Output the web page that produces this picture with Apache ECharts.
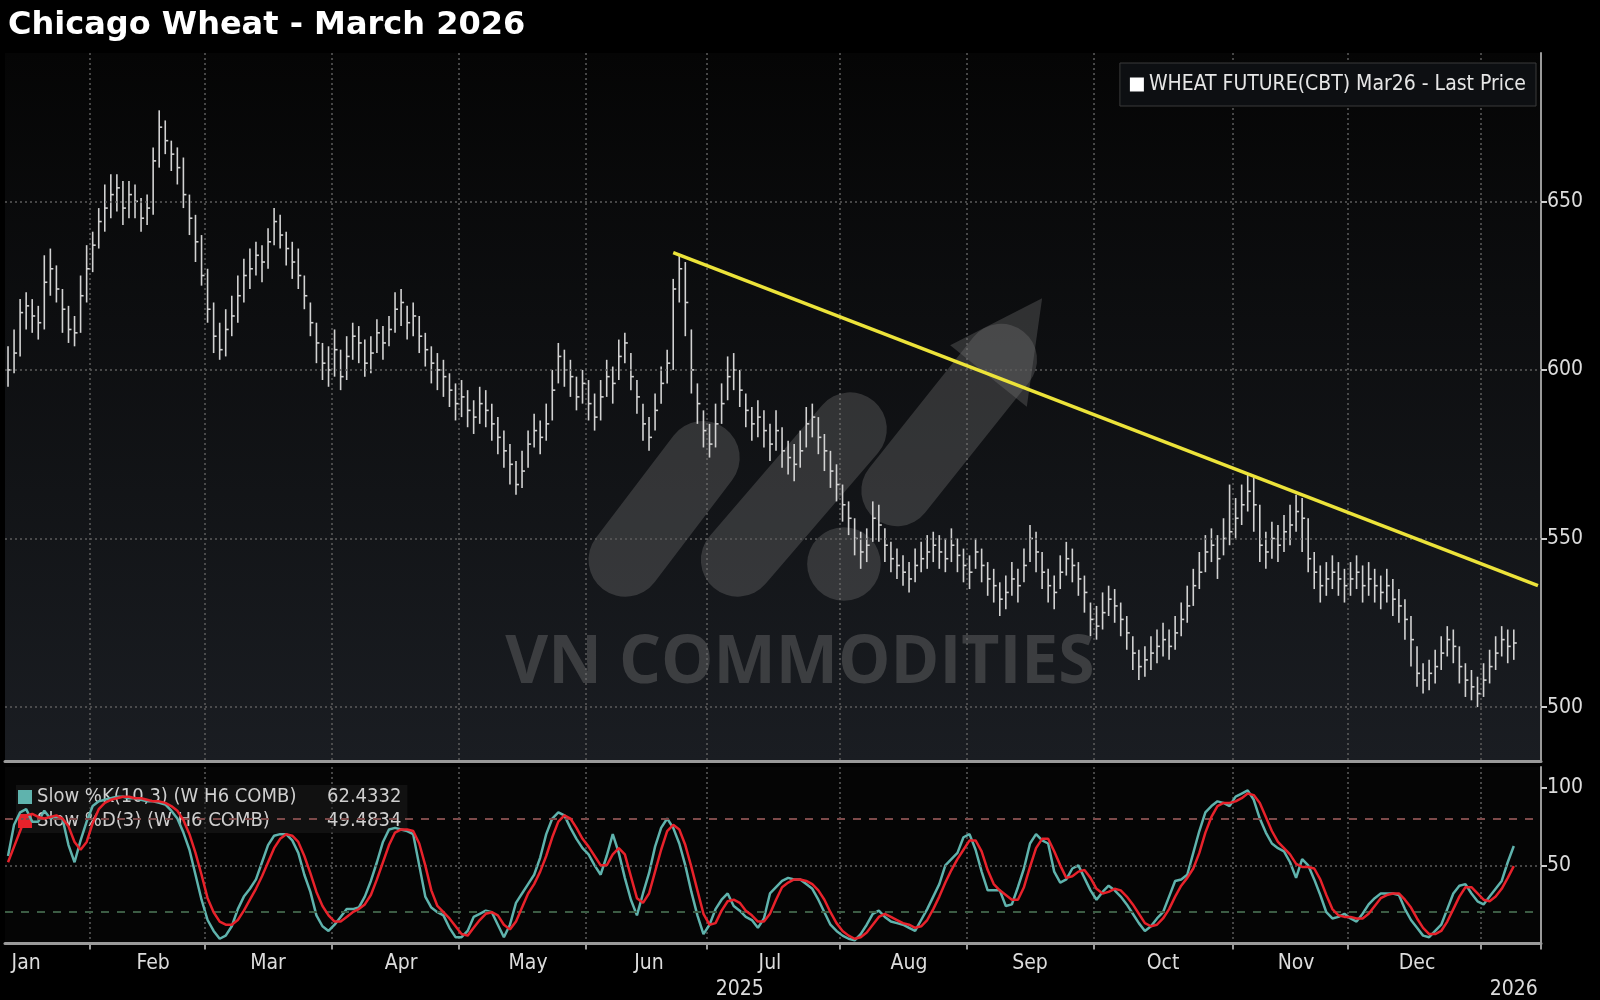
<!DOCTYPE html>
<html><head><meta charset="utf-8">
<script src="https://cdn.jsdelivr.net/npm/echarts@6/dist/echarts.min.js"></script>
<style>html,body{margin:0;padding:0;background:#000;}#c{width:1600px;height:1000px;}</style>
</head><body><div id="c"></div>
<script>
// ---- data (trading days from 2025-01-13) ----
const startDate = '2025-01-13';
const endDate = '2026-01-15';
const holidays = ['2025-01-20','2025-02-17','2025-04-18','2025-05-26','2025-06-19','2025-07-04','2025-09-01','2025-11-27','2025-12-25','2026-01-01'];
const close = [
600,605,617,619,616,614,626,630,624,618,612,611,622,630,
637,644,648,652,654,648,652,650,645,648,662,672,668,664,660,652,645,638,628,
618,610,606,612,616,622,628,630,634,632,638,644,640,636,632,628,622,614,608,602,600,
606,598,604,610,608,602,605,611,608,612,618,620,614,616,610,606,602,600,598,594,590,
592,588,586,590,588,584,580,576,572,566,570,578,582,580,584,594,604,600,598,592,596,
590,586,592,598,596,604,608,598,592,584,580,588,596,602,624,630,620,600,590,582,
578,584,590,598,600,594,588,584,586,582,578,582,576,574,572,576,584,586,580,576,570,566,
560,556,550,546,548,556,554,548,544,542,540,538,542,544,546,548,546,544,548,545,542,
540,546,542,538,536,532,534,538,536,542,550,546,540,536,534,540,544,542,538,534,526,
524,528,532,530,526,522,516,512,514,516,518,520,518,522,526,530,536,540,546,548,544,550,552,
556,560,564,560,548,546,550,548,552,554,558,556,544,540,536,538,540,538,536,
538,540,536,538,536,534,536,532,530,526,520,510,508,510,512,516,520,518,512,508,506,504,
508,512,516,520,518,519];
const high = [
607,612,621,623,621,619,634,636,631,624,619,616,628,637,
641,648,655,658,658,656,656,655,651,652,666,677,674,668,666,663,652,646,640,
630,620,614,618,622,628,633,636,638,637,642,648,646,641,638,636,628,620,614,608,607,
612,606,610,614,613,609,610,615,613,616,623,624,619,620,616,611,607,605,603,599,596,
597,594,591,595,594,590,586,582,578,573,576,582,587,585,590,600,608,606,603,598,600,
597,593,597,603,601,609,611,605,597,590,586,593,601,606,627,634,632,612,596,588,
584,590,596,604,605,600,593,589,591,588,584,588,583,579,578,582,589,590,586,581,576,572,
566,561,556,552,553,561,560,553,549,547,545,543,547,549,551,552,551,550,553,550,547,
545,550,547,543,541,537,539,543,541,547,554,552,546,541,539,545,549,547,543,539,531,
530,534,536,535,531,527,521,517,518,521,523,525,523,527,531,536,541,546,551,553,551,556,566,
562,566,569,568,560,552,555,554,557,560,563,562,556,546,542,543,545,543,541,
543,545,542,543,541,539,541,538,535,532,527,518,513,514,517,521,524,523,518,513,511,509,
513,517,521,524,523,523];
const low = [
595,599,604,612,611,609,612,622,620,611,608,607,611,620,
629,636,641,645,647,643,645,645,641,643,646,660,664,659,655,648,640,632,625,
614,605,603,604,610,614,620,624,628,626,630,637,636,631,627,624,618,610,602,597,595,
598,594,597,603,602,598,599,605,603,607,611,613,609,610,605,601,596,594,592,589,585,
586,583,581,584,583,579,575,571,566,563,565,571,577,575,579,585,596,595,592,588,590,
585,582,585,592,590,597,602,594,587,579,576,582,590,596,600,620,610,593,584,577,
574,577,584,591,594,589,583,579,580,577,573,576,571,569,567,571,577,580,575,570,565,561,
555,551,545,541,543,549,549,543,540,538,536,534,537,540,541,543,541,540,543,540,537,
535,541,537,533,531,527,529,533,531,537,543,540,535,531,529,535,539,537,533,528,521,
520,523,527,525,521,517,511,508,509,511,513,515,514,517,521,525,530,535,540,543,538,545,548,
550,554,558,552,543,541,544,543,546,548,552,546,540,535,531,533,535,533,531,
533,535,531,533,531,529,531,527,525,520,512,506,504,505,507,511,515,513,507,503,502,500,
503,507,511,515,513,514];
const slowK = [
56,76,84,86,78,78,85,80,81,80,63,52,66,78,
88,91,92,93,94,94,93,93,92,91,91,90,89,85,80,71,60,44,28,
15,8,3,5,11,22,30,35,41,52,63,69,70,70,66,58,44,33,18,11,8,
12,17,22,22,23,30,40,52,65,73,74,73,72,70,50,30,23,20,18,10,4,
4,8,17,19,21,20,12,4,12,26,32,38,44,55,70,80,84,82,74,67,61,
57,50,44,56,70,58,42,28,18,32,45,62,74,80,74,64,50,33,18,6,
12,22,28,32,24,21,17,15,10,16,32,36,40,42,41,41,38,35,28,20,12,8,
5,3,2,6,12,19,21,17,14,13,12,10,8,15,22,30,38,50,54,58,68,
70,60,46,34,34,34,24,25,36,48,64,70,66,64,46,39,41,48,50,42,34,
28,33,37,34,30,25,19,13,8,11,16,20,30,40,41,44,58,72,84,88,91,90,88,
94,96,98,92,80,71,64,61,59,52,42,54,50,41,31,20,16,17,19,
16,14,19,25,29,32,32,32,31,22,15,10,5,4,8,12,22,32,37,38,32,27,
25,30,35,40,52,62.4332];
const slowD = [
52,62,72,82,83,81,80,81,82,80,75,65,60,65,
77,86,90,92,93,94,94,93,93,92,91,91,90,88,85,79,70,58,44,
29,20,14,12,12,15,21,28,35,43,52,61,67,70,69,65,56,45,33,24,18,
14,14,17,20,22,25,31,41,52,63,71,73,73,72,64,50,34,24,20,16,11,
6,5,10,15,19,20,18,12,9,14,23,32,38,46,56,68,78,82,80,74,67,
62,56,50,50,57,61,57,43,29,26,32,46,60,72,76,73,63,49,34,19,
12,13,21,27,28,26,21,18,14,14,19,28,36,39,41,41,40,38,34,28,20,13,
8,5,3,4,7,12,17,19,17,15,13,12,10,11,15,22,30,39,47,54,60,
66,66,59,47,38,34,31,28,28,36,49,61,67,67,59,50,42,43,46,47,42,
35,32,33,35,34,30,25,19,13,11,12,16,22,30,37,42,48,58,71,81,88,90,90,
91,93,96,95,90,81,72,65,61,57,51,49,49,48,41,31,22,18,17,
17,16,16,19,24,29,31,32,32,28,23,16,10,6,6,8,14,22,30,36,36,32,
28,27,30,35,42,49.4834];
const priceTicks = [500,550,600,650];
const stochTicks = [50,100];
const trendStart = {index:110, value:634.8};
const trendEnd = {index:253, value:536};
const monthNames = ['Jan','Feb','Mar','Apr','May','Jun','Jul','Aug','Sep','Oct','Nov','Dec'];
const priceName = 'WHEAT FUTURE(CBT) Mar26 - Last Price';
const kName = 'Slow %K(10,3) (W H6 COMB)';
const dName = 'Slow %D(3) (W H6 COMB)';
const lastVals = {[kName]:'62.4332',[dName]:'49.4834'};

// ---- trading-day categories ----
const dates = [];
{
  let d = new Date(startDate+'T00:00:00Z'); const e = new Date(endDate+'T00:00:00Z');
  while (d <= e) {
    const s = d.toISOString().slice(0,10), wd = d.getUTCDay();
    if (wd!==0 && wd!==6 && holidays.indexOf(s)<0) dates.push(s);
    d = new Date(d.getTime()+86400000);
  }
}
const monthStart = dates.map((s,i)=> i>0 && s.slice(5,7)!==dates[i-1].slice(5,7));
const labelIdx = {};
dates.forEach((s,i)=>{const k=s.slice(0,7); if(!(k in labelIdx) && +s.slice(8,10)>=16 && s<'2026') labelIdx[k]=i;});
const labelSet = new Set(Object.values(labelIdx));
const yearIdx = {121:'2025', 249:'2026'};

const ohlc = close.map((c,i)=>[i, high[i], low[i], c]);

const chart = echarts.init(document.getElementById('c'));
const grey = '#5c5c5c';
const S = 1.0217;
const wm = 'rgba(120,120,120,0.33)';
function capsule(x1,y1,x2,y2,w){
  x1*=S;y1*=S;x2*=S;y2*=S;w*=S;
  const cx=(x1+x2)/2, cy=(y1+y2)/2, L=Math.hypot(x2-x1,y2-y1)+w;
  const ang=Math.atan2(-(y2-y1), x2-x1);
  return {type:'rect', x:cx, y:cy, rotation:ang, shape:{x:-L/2,y:-w/2,width:L,height:w,r:w/2},
    style:{fill:wm}, z:1, silent:true};
}
const font = 'DejaVu Sans Condensed, DejaVu Sans';
chart.setOption({
  backgroundColor:'#000',
  animation:false,
  title:{text:'Chicago Wheat - March 2026', left:3, top:5,
    textStyle:{color:'#fff', fontSize:32, fontWeight:'bold', fontFamily:'DejaVu Sans'}},
  graphic:[
    capsule(612,548,688,448,72),
    capsule(722,548,832,420,72),
    {type:'circle', shape:{cx:826*S,cy:552*S,r:36*S}, style:{fill:wm}, z:1, silent:true},
    capsule(878,480,980,352,70),
    {type:'polygon', shape:{points:[[1020*S,292*S],[930*S,338*S],[1005*S,398*S]]}, style:{fill:wm}, z:1, silent:true},
    {type:'text', x:783*S, y:650*S, style:{text:'VN COMMODITIES', fill:'rgba(120,120,120,0.38)', font:'bold 66px "Open Sans", sans-serif', align:'center', verticalAlign:'middle'}, z:1, silent:true}
  ],
  legend:[
    {data:[{name:priceName, icon:'rect'}], right:64, top:63, itemWidth:14, itemHeight:14, itemGap:4,
      backgroundColor:'#0d0f12', borderColor:'#3a3a3a', borderWidth:1, padding:[11,10,11,10],
      textStyle:{color:'#e6e6e6', fontSize:21, fontFamily:font}},
    {data:[{name:kName,icon:'rect'},{name:dName,icon:'rect'}], left:16, top:785, orient:'vertical', itemGap:4,
      itemWidth:14, itemHeight:14, backgroundColor:'rgba(30,30,30,0.5)', padding:[2,6,2,2],
      formatter:n=>'{a|'+n+'}{b|'+lastVals[n]+'}',
      textStyle:{color:'#cfcfcf', fontSize:20, fontFamily:font,
        rich:{a:{width:290, fontSize:20, color:'#cfcfcf', fontFamily:font},
              b:{fontSize:20, color:'#cfcfcf', fontFamily:font}}}}
  ],
  grid:[
    {left:5, right:59, top:53, height:708, show:true, borderWidth:0,
      backgroundColor:{type:'linear',x:0,y:0,x2:0,y2:1,colorStops:[{offset:0,color:'#050505'},{offset:1,color:'#1a1d22'}]}},
    {left:5, right:59, top:767, height:181, show:true, borderWidth:0, backgroundColor:'#050505'}
  ],
  xAxis:[
    {type:'category', data:dates, gridIndex:0, boundaryGap:true,
      axisLine:{show:true, lineStyle:{color:'#9a9a9a', width:3}}, axisTick:{show:false}, axisLabel:{show:false},
      splitLine:{show:true, interval:(i)=>monthStart[i], lineStyle:{color:grey, type:[2,3], width:1.5}}},
    {type:'category', data:dates, gridIndex:1, boundaryGap:true,
      axisLine:{show:true, lineStyle:{color:'#9a9a9a', width:3}},
      axisTick:{show:true, interval:(i)=>monthStart[i], length:6, lineStyle:{color:'#9a9a9a', width:2}},
      axisLabel:{show:true, interval:(i)=>labelSet.has(i), formatter:v=>monthNames[+v.slice(5,7)-1],
        color:'#dcdcdc', fontSize:21, margin:8, fontFamily:font},
      splitLine:{show:true, interval:(i)=>monthStart[i], lineStyle:{color:grey, type:[2,3], width:1.5}}},
    {type:'category', data:dates, gridIndex:1, boundaryGap:true, position:'bottom', offset:26,
      axisLine:{show:false}, axisTick:{show:false}, splitLine:{show:false},
      axisLabel:{show:true, interval:(i)=>(i in yearIdx), formatter:(v,i)=>yearIdx[i]||'',
        color:'#dcdcdc', fontSize:21, fontFamily:font}}
  ],
  yAxis:[
    {type:'value', gridIndex:0, position:'right', min:484, max:694,
      axisLine:{show:true, lineStyle:{color:'#9a9a9a', width:2}},
      axisTick:{show:true, customValues:priceTicks, length:6, lineStyle:{color:'#ccc', width:2}},
      axisLabel:{customValues:priceTicks, color:'#dcdcdc', fontSize:21, margin:6, fontFamily:font},
      splitLine:{show:false}},
    {type:'value', gridIndex:1, position:'right', min:-1, max:113,
      axisLine:{show:true, lineStyle:{color:'#9a9a9a', width:2}},
      axisTick:{show:true, customValues:stochTicks, length:6, lineStyle:{color:'#ccc', width:2}},
      axisLabel:{customValues:stochTicks, color:'#dcdcdc', fontSize:21, margin:6, fontFamily:font},
      splitLine:{show:false}}
  ],
  series:[
    {name:priceName, type:'custom', xAxisIndex:0, yAxisIndex:0, data:ohlc, z:3,
      itemStyle:{color:'#ffffff'},
      encode:{x:0, y:[1,2,3]},
      renderItem:function(params, api){
        const i=api.value(0), pH=api.coord([i,api.value(1)]), pL=api.coord([i,api.value(2)]), pC=api.coord([i,api.value(3)]);
        const st={stroke:'#d2d2d2', lineWidth:1.6};
        return {type:'group', children:[
          {type:'line', shape:{x1:pH[0],y1:pH[1],x2:pL[0],y2:pL[1]}, style:st},
          {type:'line', shape:{x1:pC[0],y1:pC[1],x2:pC[0]+3,y2:pC[1]}, style:st}
        ]};
      },
      markLine:{silent:true, symbol:'none', label:{show:false}, animation:false,
        data:[
          ...priceTicks.map(v=>({yAxis:v, lineStyle:{color:grey, type:[2,3], width:1.5}})),
          [{coord:[dates[trendStart.index], trendStart.value], lineStyle:{color:'#ece33a', width:3.5, type:'solid'}},
           {coord:[dates[trendEnd.index], trendEnd.value]}]
        ]}},
    {name:kName, type:'line', xAxisIndex:1, yAxisIndex:1, data:slowK, showSymbol:false, z:4,
      itemStyle:{color:'#5fb3ad'}, lineStyle:{color:'#5fb3ad', width:2.5},
      markLine:{silent:true, symbol:'none', label:{show:false},
        data:[{yAxis:80, lineStyle:{color:'#7d4a4a', type:[8,8], width:2}},
              {yAxis:20, lineStyle:{color:'#3c5c44', type:[8,8], width:2}},
              {yAxis:50, lineStyle:{color:grey, type:[2,3], width:1.5}}]}},
    {name:dName, type:'line', xAxisIndex:1, yAxisIndex:1, data:slowD, showSymbol:false, z:5,
      itemStyle:{color:'#e8222b'}, lineStyle:{color:'#e8222b', width:2.5}}
  ]
});
</script></body></html>
